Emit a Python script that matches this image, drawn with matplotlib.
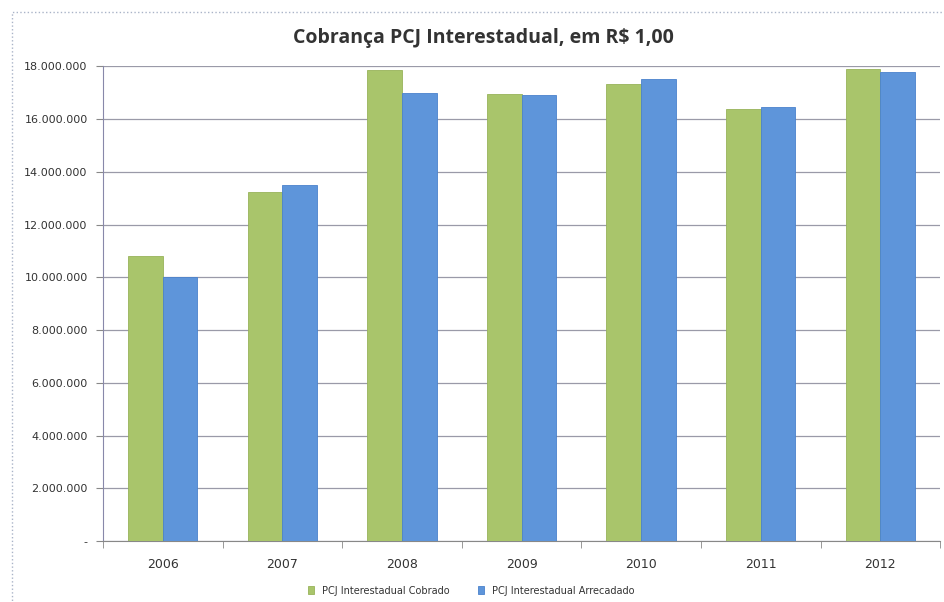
import matplotlib
matplotlib.use("Agg")
import matplotlib.pyplot as plt
import matplotlib.ticker as mticker
from matplotlib.patches import Rectangle
import numpy as np

# valores
anos = ["2006", "2007", "2008", "2009", "2010", "2011", "2012"]
cobrado = [10800000, 13220000, 17850000, 16960000, 17330000, 16380000, 17880000]
arrecadado = [10000000, 13490000, 17000000, 16900000, 17520000, 16460000, 17770000]

cor_cobrado = "#A9C56B"
cor_arrecadado = "#5E95DA"

def fmt_reais(v, pos):
    if v == 0:
        return "-"
    return f"{int(v):,}".replace(",", ".")

fig = plt.figure(figsize=(9.44, 6.02), dpi=100)
ax = fig.add_axes([0.109, 0.101, 0.887, 0.789])

x = np.arange(len(anos))
w = 0.29
ax.bar(x - w / 2, cobrado, w, color=cor_cobrado, edgecolor="#98B35A", linewidth=0.6,
       label="PCJ Interestadual Cobrado", zorder=3)
ax.bar(x + w / 2, arrecadado, w, color=cor_arrecadado, edgecolor="#4A82CC", linewidth=0.6,
       label="PCJ Interestadual Arrecadado", zorder=3)

ax.set_xlim(-0.5, len(anos) - 0.5)
ax.set_ylim(0, 18000000)
ax.set_yticks(np.arange(0, 18000001, 2000000))
ax.yaxis.set_major_formatter(mticker.FuncFormatter(fmt_reais))
ax.set_xticks(x)
ax.set_xticklabels(anos)
ax.set_xticks(np.arange(-0.5, len(anos), 1), minor=True)
ax.tick_params(axis="x", which="major", length=0, pad=12, labelsize=9, labelcolor="#333333")
ax.tick_params(axis="x", which="minor", length=5, color="#888888", direction="out")
ax.tick_params(axis="y", length=5, color="#888888", labelsize=8, labelcolor="#333333", pad=6)

ax.grid(axis="y", color="#9a9aa8", linewidth=0.9, zorder=0)
for s in ["top", "right"]:
    ax.spines[s].set_visible(False)
ax.spines["left"].set_color("#8888aa")
ax.spines["bottom"].set_color("#888888")

fig.text(0.512, 0.937, "Cobrança PCJ Interestadual, em R$ 1,00", ha="center", va="center",
         fontsize=14, fontweight="bold", color="#333333", family="Open Sans")

ax.legend(loc="upper center", bbox_to_anchor=(0.44, -0.075), ncol=2, frameon=False,
          fontsize=7, handlelength=0.6, handleheight=0.8, columnspacing=3, labelcolor="#333333")

# borda da área do gráfico
fig.patches.append(Rectangle((0.013, -0.1), 1.2, 1.08, transform=fig.transFigure,
                             fill=False, edgecolor="#aab4c8", linewidth=1, linestyle=":"))

fig.savefig("out.png", dpi=100)
